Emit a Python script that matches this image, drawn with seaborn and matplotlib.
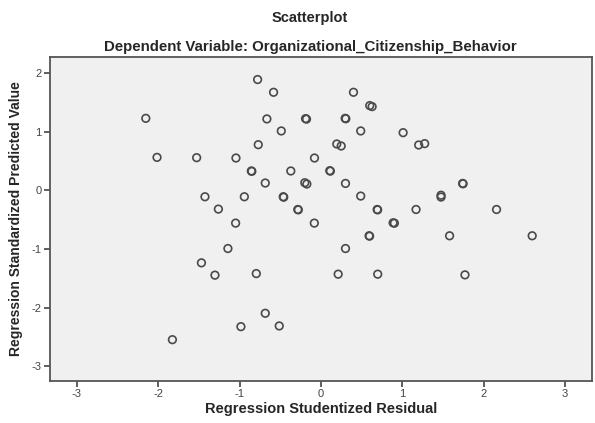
import matplotlib
matplotlib.use("Agg")
import matplotlib.pyplot as plt
import seaborn as sns
import pandas as pd

# Regression studentized residuals (x) and standardized predicted values (y)
residual = [
    -2.153, -2.015, -1.528, -0.779, -0.583, 0.399, 0.599, 0.628,
    -0.665, -0.190, -0.178, 0.297, 0.305, -0.488, 0.488, -0.771,
    0.194, 0.248, -1.045, -0.080, -0.856, -0.850, -0.371, 0.108, 0.115,
    -0.685, -0.199, -0.174, 0.301, -1.426, -0.942, -0.464, -0.458,
    0.488, -1.261, -0.285, -0.279, 0.690, 0.696, -1.049, -0.082,
    1.009, 1.200, 1.274, 1.740, 1.746, 1.475, 1.475, 1.168, 2.157,
    0.886, 0.902, 0.591, 0.597, 1.580, 2.595, -1.144, 0.301,
    -1.469, -1.303, -0.795, 0.211, 0.697, 1.769, -0.685, -0.984,
    -0.513, -1.826,
]
predicted = [
    1.225, 0.560, 0.555, 1.886, 1.669, 1.669, 1.442, 1.425,
    1.215, 1.220, 1.212, 1.225, 1.218, 1.010, 1.010, 0.776,
    0.788, 0.754, 0.549, 0.549, 0.328, 0.322, 0.328, 0.333, 0.326,
    0.123, 0.128, 0.106, 0.116, -0.111, -0.111, -0.111, -0.118,
    -0.099, -0.321, -0.328, -0.334, -0.328, -0.334, -0.560, -0.560,
    0.981, 0.771, 0.794, 0.116, 0.110, -0.085, -0.116, -0.328, -0.328,
    -0.555, -0.561, -0.776, -0.782, -0.776, -0.776, -0.993, -0.993,
    -1.237, -1.447, -1.420, -1.430, -1.430, -1.442, -2.096, -2.324,
    -2.312, -2.546,
]
x_ticks = [-3, -2, -1, 0, 1, 2, 3]
y_ticks = [-3, -2, -1, 0, 1, 2]

df = pd.DataFrame({"res": residual, "pred": predicted})

sns.set_style("ticks")
plt.rcParams["font.family"] = ["Liberation Sans", "DejaVu Sans"]

fig = plt.figure(figsize=(5.95, 4.23), dpi=100)
ax = fig.add_axes([50 / 595, 1 - 381 / 423, 542 / 595, 324 / 423])
ax.set_facecolor("#f0f0f0")

sns.scatterplot(data=df, x="res", y="pred", ax=ax, marker="o", s=30,
                facecolor="none", edgecolor="#4a4a4a", linewidth=1.2,
                zorder=3)

ax.set_xlim(-3.33, 3.33)
ax.set_ylim(-3.25, 2.27)
ax.set_xticks(x_ticks)
ax.set_yticks(y_ticks)
ax.set_xticklabels([str(t) for t in x_ticks])
ax.set_yticklabels([str(t) for t in y_ticks])
ax.tick_params(axis="both", labelsize=8, labelcolor="#444444",
               color="#444444", length=4, width=1.2, direction="out", pad=2)
for sp in ax.spines.values():
    sp.set_visible(True)
    sp.set_color("#555555")
    sp.set_linewidth(1.3)

ax.set_xlabel("")
ax.set_ylabel("Regression Standardized Predicted Value", fontsize=10,
              fontweight="bold", labelpad=6)
fig.text(0.54, 1 - 409 / 423, "Regression Studentized Residual",
         ha="center", va="center", fontsize=10.5, fontweight="bold")

fig.text(0.521, 1 - 18 / 423, "Scatterplot", ha="center", va="center",
         fontsize=10.5, fontweight="bold")
fig.text(0.521, 1 - 47 / 423,
         "Dependent Variable: Organizational_Citizenship_Behavior",
         ha="center", va="center", fontsize=10.8, fontweight="bold")

fig.savefig("out.png", dpi=100)
